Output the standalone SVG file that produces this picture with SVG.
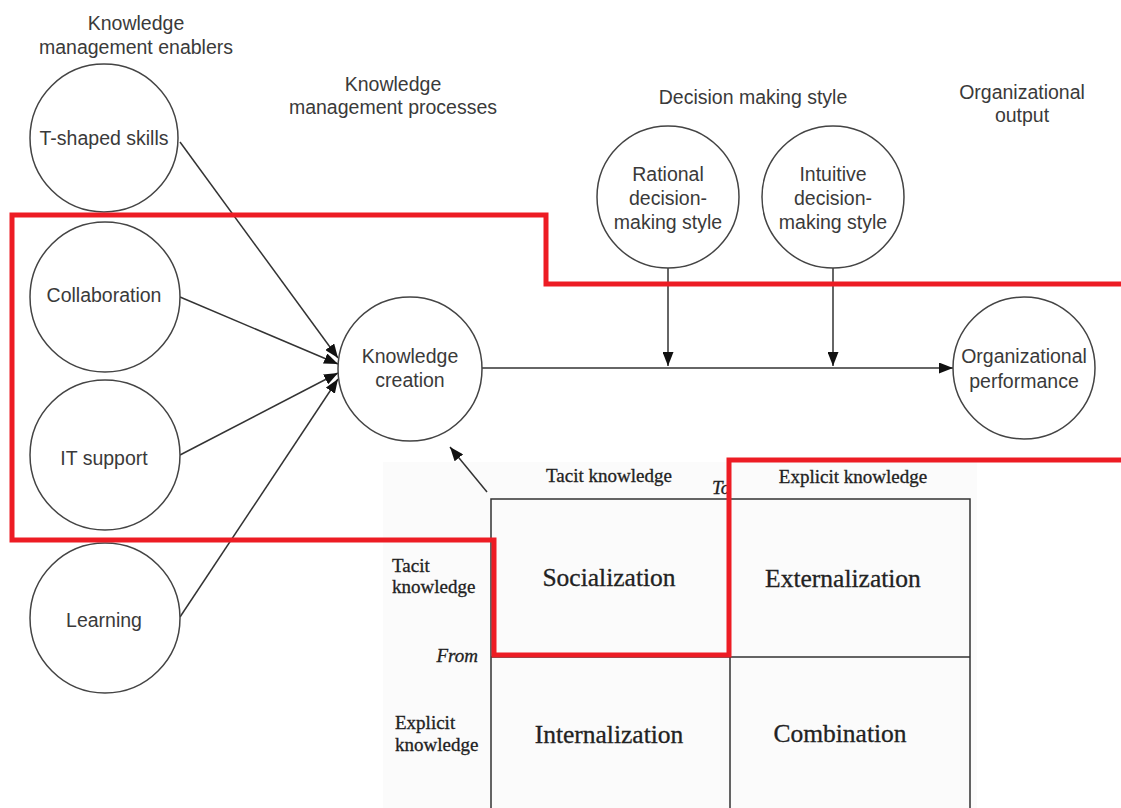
<svg xmlns="http://www.w3.org/2000/svg" width="1121" height="808" viewBox="0 0 1121 808">
<style>
.c{fill:#fff;stroke:#444;stroke-width:1.5}
.t{font-family:"Liberation Sans",Arial,sans-serif;font-size:19.5px;fill:#3a3a3a;text-anchor:middle}
.s{font-family:"Liberation Serif","Times New Roman",serif;fill:#222;stroke:#222;stroke-width:0.3}
.sl{font-size:19px}
.sb{font-size:25.5px;text-anchor:middle}
.ln{stroke:#333;stroke-width:1.5;fill:none}
.g{stroke:#333;stroke-width:1.5;fill:none}
.red{stroke:#ed1c24;stroke-width:5;fill:none;stroke-linejoin:miter}
</style>
<defs>
<marker id="ah" viewBox="0 0 14 11" refX="14" refY="5.5" markerWidth="14" markerHeight="11" markerUnits="userSpaceOnUse" orient="auto">
<path d="M0,0 L14,5.5 L0,11 z" fill="#111"/>
</marker>
</defs>
<rect width="1121" height="808" fill="#fff"/>

<g id="headers">
<text class="t" x="136" y="30">Knowledge</text>
<text class="t" x="136" y="54">management enablers</text>
<text class="t" x="393" y="91">Knowledge</text>
<text class="t" x="393" y="114">management processes</text>
<text class="t" x="753" y="104">Decision making style</text>
<text class="t" x="1022" y="99">Organizational</text>
<text class="t" x="1022" y="122">output</text>
</g>

<g id="matrix">
<rect x="383" y="462" width="594" height="346" fill="#fbfbfb"/>
<path class="g" d="M491,808 V499 H970 V808 M730,499 V808 M491,657 H970"/>
<text class="s sl" x="609" y="482" text-anchor="middle">Tacit knowledge</text>
<text class="s sl" x="853" y="483" text-anchor="middle">Explicit knowledge</text>
<text class="s sl" x="712" y="494" font-style="italic">To</text>
<text class="s sl" x="392" y="572">Tacit</text>
<text class="s sl" x="392" y="593">knowledge</text>
<text class="s sl" x="478" y="662" font-style="italic" text-anchor="end">From</text>
<text class="s sl" x="395" y="729">Explicit</text>
<text class="s sl" x="395" y="751">knowledge</text>
<text class="s sb" x="609" y="586">Socialization</text>
<text class="s sb" x="843" y="587">Externalization</text>
<text class="s sb" x="609" y="743">Internalization</text>
<text class="s sb" x="840" y="742">Combination</text>
</g>

<g id="connectors">
<line class="ln" x1="180" y1="142" x2="338" y2="358" marker-end="url(#ah)"/>
<line class="ln" x1="180" y1="297" x2="338" y2="364" marker-end="url(#ah)"/>
<line class="ln" x1="180" y1="455" x2="338" y2="373" marker-end="url(#ah)"/>
<line class="ln" x1="180" y1="617" x2="338" y2="379" marker-end="url(#ah)"/>
<line class="ln" x1="482" y1="368" x2="953" y2="368" marker-end="url(#ah)"/>
<line class="ln" x1="668" y1="267" x2="668" y2="366" marker-end="url(#ah)"/>
<line class="ln" x1="833" y1="267" x2="833" y2="366" marker-end="url(#ah)"/>
<line class="ln" x1="487" y1="492" x2="450" y2="447" marker-end="url(#ah)"/>
</g>

<g id="n-tshaped"><circle class="c" cx="104" cy="138" r="74"/><text class="t" x="104" y="145">T-shaped skills</text></g>
<g id="n-collab"><circle class="c" cx="105" cy="297" r="75"/><text class="t" x="104" y="302">Collaboration</text></g>
<g id="n-it"><circle class="c" cx="105" cy="455" r="75"/><text class="t" x="104" y="465">IT support</text></g>
<g id="n-learning"><circle class="c" cx="105" cy="618" r="75"/><text class="t" x="104" y="627">Learning</text></g>
<g id="n-kc"><circle class="c" cx="410" cy="369" r="72"/><text class="t" x="410" y="363">Knowledge</text><text class="t" x="410" y="387">creation</text></g>
<g id="n-rational"><circle class="c" cx="668" cy="197" r="71"/><text class="t" x="668" y="181">Rational</text><text class="t" x="668" y="205">decision-</text><text class="t" x="668" y="229">making style</text></g>
<g id="n-intuitive"><circle class="c" cx="833" cy="197" r="71"/><text class="t" x="833" y="181">Intuitive</text><text class="t" x="833" y="205">decision-</text><text class="t" x="833" y="229">making style</text></g>
<g id="n-orgperf"><circle class="c" cx="1024" cy="368" r="71"/><text class="t" x="1024" y="363">Organizational</text><text class="t" x="1024" y="388">performance</text></g>

<g id="highlight">
<path class="red" d="M1121,284 H546 V215 H12 V540 H494 V655 H729 V460 H1121"/>
</g>
</svg>
